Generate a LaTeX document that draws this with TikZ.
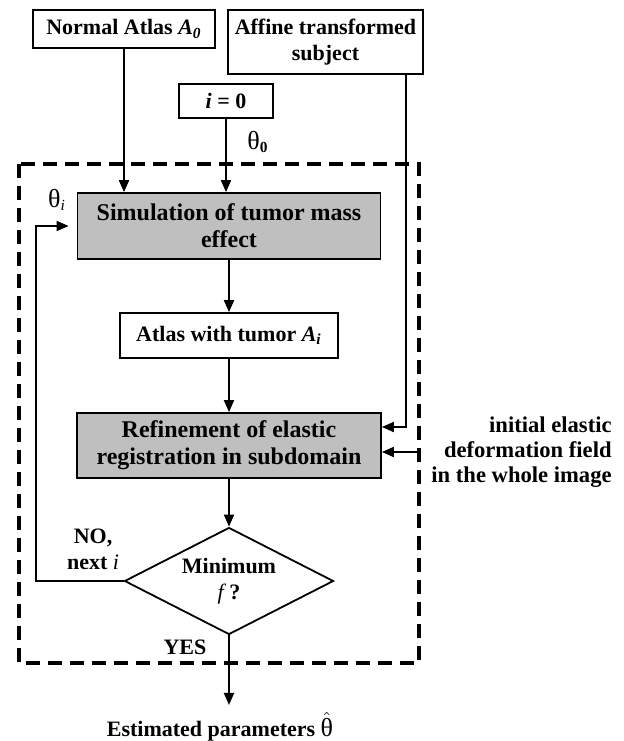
\documentclass[tikz,border=0pt]{standalone}
\usepackage{fontspec}
\setmainfont{Liberation Serif}
\usetikzlibrary{shapes.geometric,arrows.meta}

\newcommand{\thetasym}{{\fontsize{13}{15}\selectfont\mdseries θ}}

\begin{document}
\begin{tikzpicture}[x=0.5pt,y=-0.5pt,
>={Triangle[length=6pt,width=5pt]},
every node/.style={font=\fontsize{11}{13}\selectfont\bfseries,align=center},
box/.style={draw,line width=0.9pt,inner sep=0pt},
graybox/.style={box,fill=black!25,font=\fontsize{12}{13.5}\selectfont\bfseries},
decision/.style={draw,line width=0.9pt,diamond,aspect=2,inner sep=0pt,minimum width=104.5pt,minimum height=53.5pt},
flow/.style={->,line width=0.9pt},
loopbox/.style={dash pattern=on 7pt off 4pt,line width=1.6pt}]
\useasboundingbox (0,0) rectangle (624,741);

\node[box,minimum width=91pt,minimum height=19pt] (atlas0) at (124,29) {Normal Atlas \textit{A\textsubscript{0}}};
\node[box,minimum width=97.5pt,minimum height=32pt] (affine) at (325.5,42) {Affine transformed\\subject};
\node[box,minimum width=47pt,minimum height=17pt] (init) at (226,101) {\textit{i} = 0};
\node[graybox,minimum width=151.5pt,minimum height=33pt] (sim) at (229,226) {Simulation of tumor mass\\effect};
\node[box,minimum width=109pt,minimum height=22.5pt] (atlasi) at (229,335.5) {Atlas with tumor \textit{A\textsubscript{i}}};
\node[graybox,minimum width=152pt,minimum height=32.5pt] (refine) at (229,445.5) {Refinement of elastic\\registration in subdomain};
\node[decision] (decide) at (229,581) {Minimum\\{\mdseries\itshape f} ?};
\node[anchor=east,inner sep=0pt,align=right,font=\fontsize{11.3}{12.5}\selectfont\bfseries] (field) at (612,452) {initial elastic\\deformation field\\in the whole image};
\node (theta0) at (258,142) {\thetasym\textsubscript{0}};
\node (thetai) at (57,200) {\thetasym\textsubscript{\mdseries\itshape i}};
\node (nolabel) at (93,549) {NO,\\next {\mdseries\itshape i}};
\node (yeslabel) at (185,647) {YES};
\node[anchor=base] (result) at (220,736) {Estimated parameters $\hat{\mbox{\thetasym}}$};

\coordinate (rail) at (406,0);
\coordinate (back) at (36,400);

\draw[loopbox] (19,164) rectangle (419,663);

\draw[flow] (atlas0) -- (atlas0 |- sim.north);
\draw[flow] (init) -- (init |- sim.north);
\draw[flow] (affine.south -| rail) |- ([yshift=9.25pt]refine.east);
\draw[flow,shorten <=5pt] (field.west) -- (field.west -| refine.east);
\draw[flow] (sim) -- (atlasi);
\draw[flow] (atlasi) -- (refine);
\draw[flow] (refine) -- (decide);
\draw[flow,shorten >=4pt] (decide.west) -| (back) |- (sim.west);
\draw[flow] (decide.south) -- (decide.south |- result.north);
\end{tikzpicture}
\end{document}
